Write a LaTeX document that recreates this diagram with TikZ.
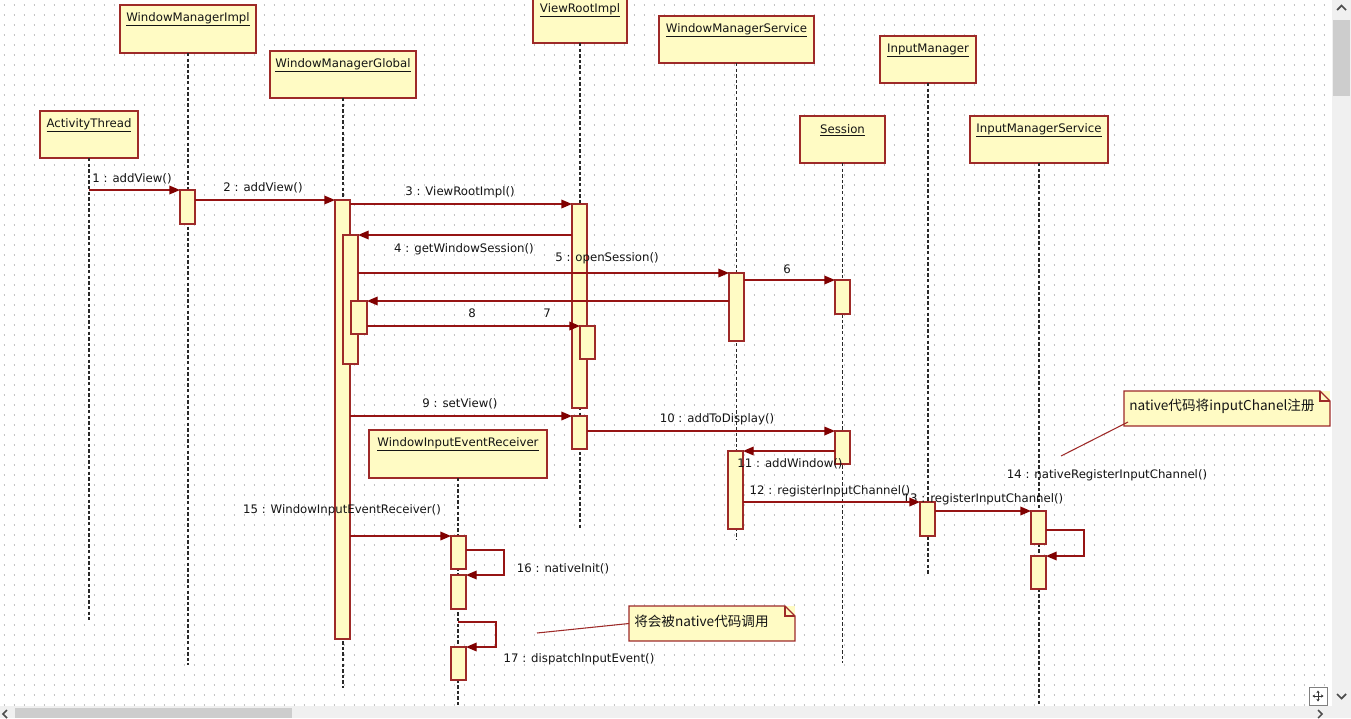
\documentclass[tikz,border=0pt]{standalone}
\usepackage{fontspec}
\setmainfont{DejaVu Sans}
\newfontfamily\cjk{Noto Sans CJK SC}
\usetikzlibrary{arrows.meta,calc}
\definecolor{boxfill}{RGB}{255,251,196}
\definecolor{boxline}{RGB}{158,42,40}
\definecolor{msgcol}{RGB}{150,20,20}
\definecolor{tipcol}{RGB}{128,0,0}
\definecolor{txtcol}{RGB}{20,20,20}
\definecolor{dotcol}{RGB}{196,196,196}
\definecolor{lifecol}{RGB}{40,40,40}
\definecolor{sbbg}{RGB}{240,240,240}
\definecolor{sbthumb}{RGB}{205,205,205}
\newcommand\hdbox[6]{%
  \node[obj, minimum width={(#4-#2)*0.75pt}, minimum height={(#5-#3)*0.75pt}] (#1) at ({(#2+#4)/2},{(#3+#5)/2}) {};
  \node[hlabel] (#1T) at ({(#2+#4)/2},{#3+14.5}) {\underline{#6}};}
\newcommand\actbar[5]{%
  \node[act, minimum width={(#4-#2)*0.75pt}, minimum height={(#5-#3)*0.75pt}] (#1) at ({(#2+#4)/2},{(#3+#5)/2}) {};}
\newcommand\notebox[6]{%
  \node[notefill, minimum width={(#4-#2)*0.75pt}, minimum height={(#5-#3)*0.75pt}] (#1) at ({(#2+#4)/2},{(#3+#5)/2}) {};
  \draw[noteline] (#1.north west) -- ($(#1.north east)+(-10,0)$) -- ($(#1.north east)+(0,10)$) -- (#1.south east) -- (#1.south west) -- cycle;
  \draw[noteline] ($(#1.north east)+(-10,0)$) -- ($(#1.north east)+(-10,10)$) -- ($(#1.north east)+(0,10)$);
  \node[mlabel, anchor=west, font=\cjk\fontsize{10.2pt}{12pt}\selectfont] (#1T) at ($(#1.west)+(5,-2)$) {#6};}
\begin{document}
\begin{tikzpicture}[x=0.75pt,y=-0.75pt,
  every node/.style={font=\fontsize{8.8pt}{10pt}\selectfont, text=txtcol},
  obj/.style={draw=boxline, fill=boxfill, line width=1.1pt, inner sep=0pt, outer sep=0pt, rectangle},
  act/.style={draw=boxline, fill=boxfill, line width=1.1pt, inner sep=0pt, outer sep=0pt, rectangle},
  hlabel/.style={inner sep=0pt},
  mlabel/.style={inner sep=0pt},
  notefill/.style={fill=boxfill, inner sep=0pt, outer sep=0pt, rectangle},
  noteline/.style={draw=boxline, line width=1pt, line join=miter},
  life/.style={draw=lifecol, line width=1.3pt, dash pattern=on 2.6pt off 1.6pt},
  msg/.style={draw=msgcol, line width=1pt, -{Triangle[length=8pt,width=6.5pt,color=tipcol]}},
  anchorline/.style={draw=boxline, line width=0.8pt}]
\useasboundingbox (0,0) rectangle (1351,718);
\clip (0,0) rectangle (1351,718);
\fill[white] (0,0) rectangle (1351,718);
% dotted grid
\foreach \yy in {5,15,...,705}
  \draw[dotcol, line width=0.9pt, dash pattern=on 0.8pt off 6.7pt] (3.5,\yy) -- (1330,\yy);

% lifeline heads
\hdbox{AT}{40}{111}{138}{158}{ActivityThread}
\hdbox{WI}{120}{5}{256}{53}{WindowManagerImpl}
\hdbox{WG}{270}{51}{416}{98}{WindowManagerGlobal}
\hdbox{VR}{533}{-4}{627}{43}{ViewRootImpl}
\hdbox{WS}{659}{16}{814}{63}{WindowManagerService}
\hdbox{SE}{800}{116}{885}{163}{Session}
\hdbox{IM}{880}{36}{976}{83}{InputManager}
\hdbox{IS}{970}{116}{1108}{163}{InputManagerService}
\hdbox{RC}{369}{430}{547}{478}{WindowInputEventReceiver}

% lifeline ends
\coordinate (ATe) at (89,620);
\coordinate (WIe) at (188,665);
\coordinate (WGe) at (343,688);
\coordinate (VRe) at (580,528);
\coordinate (WSe) at (736.5,540);
\coordinate (SEe) at (842.5,663);
\coordinate (IMe) at (928,575);
\coordinate (ISe) at (1039,707);
\coordinate (RCe) at (458,707);
\draw[life] (AT.south) -- (ATe);
\draw[life] (WI.south) -- (WIe);
\draw[life] (WG.south) -- (WGe);
\draw[life] (VR.south) -- (VRe);
\draw[life] (WS.south) -- (WSe);
\draw[life] (SE.south) -- (SEe);
\draw[life] (IM.south -| IMe) -- (IMe);
\draw[life] (IS.south) -- (ISe);
\draw[life] (RC.south) -- (RCe);

% activation bars
\actbar{W1}{180}{190}{195}{224}
\actbar{G1}{335}{200}{350}{639}
\actbar{G2}{343}{235}{358}{364}
\actbar{G3}{351}{301}{367}{334}
\actbar{V1}{572}{204}{587}{408}
\actbar{V2}{580}{326}{595}{359}
\actbar{V3}{572}{416}{587}{449}
\actbar{S1}{729}{273}{744}{341}
\actbar{S2}{728}{451}{743}{529}
\actbar{E1}{835}{280}{850}{314}
\actbar{E2}{835}{431}{850}{464}
\actbar{M1}{920}{502}{935}{536}
\actbar{I1}{1031}{511}{1046}{544}
\actbar{I2}{1031}{556}{1046}{589}
\actbar{R1}{451}{536}{466}{569}
\actbar{R2}{451}{575}{466}{609}
\actbar{R3}{451}{647}{466}{680}

% message labels
\node[mlabel] (L1) at (132,179) {1 : addView()};
\node[mlabel] (L2) at (263,188) {2 : addView()};
\node[mlabel] (L3) at (460,192) {3 : ViewRootImpl()};
\node[mlabel] (L4) at (464,249) {4 : getWindowSession()};
\node[mlabel] (L5) at (607,258) {5 : openSession()};
\node[mlabel] (L6) at (787,269) {6};
\node[mlabel] (L7) at (547,313) {7};
\node[mlabel] (L8) at (472,313) {8};
\node[mlabel] (L9) at (460,404) {9 : setView()};
\node[mlabel] (L10) at (717,419) {10 : addToDisplay()};
\node[mlabel] (L11) at (790,464) {11 : addWindow()};
\node[mlabel] (L12) at (830,491) {12 : registerInputChannel()};
\node[mlabel] (L13) at (983,499) {13 : registerInputChannel()};
\node[mlabel] (L14) at (1107,475) {14 : nativeRegisterInputChannel()};
\node[mlabel] (L15) at (342,510) {15 : WindowInputEventReceiver()};
\node[mlabel] (L16) at (563,569) {16 : nativeInit()};
\node[mlabel] (L17) at (579,659) {17 : dispatchInputEvent()};

% messages
\draw[msg] (ATe |- W1.north west) -- (W1.north west);
\draw[msg] (W1.east |- G1.north west) -- (G1.north west);
\draw[msg] (G1.east |- V1.north west) -- (V1.north west);
\draw[msg] (V1.west |- G2.north east) -- (G2.north east);
\draw[msg] (G2.east |- S1.north west) -- (S1.north west);
\draw[msg] (S1.east |- E1.north west) -- (E1.north west);
\draw[msg] (S1.west |- G3.north east) -- (G3.north east);
\draw[msg] (G3.east |- V2.north west) -- (V2.north west);
\draw[msg] (G1.east |- V3.north west) -- (V3.north west);
\draw[msg] (V3.east |- E2.north west) -- (E2.north west);
\draw[msg] (E2.west |- S2.north east) -- (S2.north east);
\draw[msg] (S2.east |- M1.north west) -- (M1.north west);
\draw[msg] (M1.east |- I1.north west) -- (I1.north west);
\coordinate (c14) at (1084,530);
\draw[msg] (I1.east |- c14) -- (c14) |- (I2.north east);
\draw[msg] (G1.east |- R1.north west) -- (R1.north west);
\coordinate (c16) at (504,550);
\draw[msg] (R1.east |- c16) -- (c16) |- (R2.north east);
\coordinate (c17) at (496,622);
\draw[msg] (RC.south |- c17) -- (c17) |- (R3.north east);

% notes
\notebox{N1}{1124}{391}{1330}{426}{native代码将inputChanel注册}
\coordinate (n1e) at (1061,456);
\draw[anchorline] ($(N1.south west)+(4,-4)$) -- (n1e);
\notebox{N2}{629}{606}{795}{641}{将会被native代码调用}
\coordinate (n2e) at (537,633);
\draw[anchorline] (N2.west) -- (n2e);

% scrollbars
\fill[sbbg] (1332,0) rectangle (1351,718);
\fill[sbbg] (0,706) rectangle (1351,718);
\fill[sbthumb] (1333,20) rectangle (1350,96);
\fill[sbthumb] (15,708) rectangle (292,718);
\draw[black!70, line width=1.3pt] (1337,10) -- (1341.5,5.5) -- (1346,10);
\draw[black!70, line width=1.3pt] (1337,694) -- (1341.5,698.5) -- (1346,694);
\draw[black!70, line width=1.1pt] (7,710) -- (3,714) -- (7,718);
\draw[black!70, line width=1.1pt] (1318,710) -- (1322,714) -- (1318,718);
\draw[black!50, fill=white, line width=0.7pt] (1309,687) rectangle (1327,705);
\draw[black!80, line width=0.6pt, -{Stealth[length=2pt,width=2.5pt]}] (1318,696) -- (1318,690.5);
\draw[black!80, line width=0.6pt, -{Stealth[length=2pt,width=2.5pt]}] (1318,696) -- (1318,701.5);
\draw[black!80, line width=0.6pt, -{Stealth[length=2pt,width=2.5pt]}] (1318,696) -- (1312.5,696);
\draw[black!80, line width=0.6pt, -{Stealth[length=2pt,width=2.5pt]}] (1318,696) -- (1323.5,696);
\end{tikzpicture}
\end{document}
